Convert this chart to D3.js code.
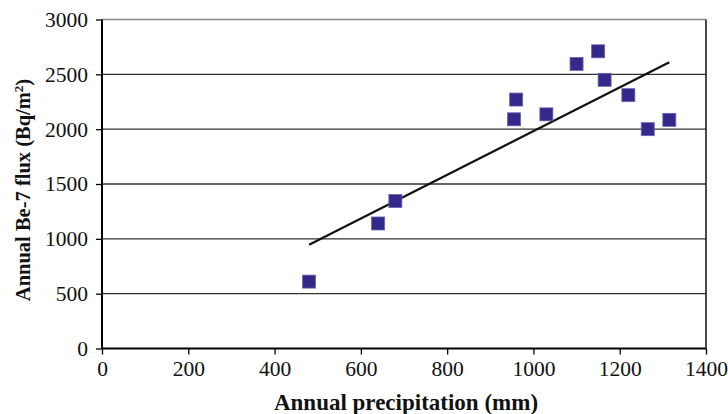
<!DOCTYPE html>
<html>
<head>
<meta charset="utf-8">
<script src="https://cdn.jsdelivr.net/npm/d3@7"></script>
<style>
  body { margin: 0; background: #fff; }
  svg { display: block; font-family: "Liberation Serif", "Times New Roman", serif; }
</style>
</head>
<body>
<svg id="chart" width="728" height="414"></svg>
<script>
// --- data
var precip = [480, 640, 680, 955, 960, 1030, 1100, 1150, 1165, 1220, 1265, 1315];
var flux   = [610, 1140, 1345, 2090, 2270, 2135, 2595, 2710, 2450, 2310, 2000, 2085];
var trendX = [480, 1315];
var trendY = [946, 2610];
var xTicks = [0, 200, 400, 600, 800, 1000, 1200, 1400];
var yTicks = [0, 500, 1000, 1500, 2000, 2500, 3000];

var svg = d3.select("#chart");
var margin = {left: 102, right: 22, top: 19.5, bottom: 65.5};
var width = 728 - margin.left - margin.right,
    height = 414 - margin.top - margin.bottom;

var x = d3.scaleLinear().domain([0, 1400]).range([0, width]);
var y = d3.scaleLinear().domain([0, 3000]).range([height, 0]);

var g = svg.append("g")
    .attr("transform", "translate(" + margin.left + "," + margin.top + ")");

// gridlines
g.selectAll("line.grid")
  .data(yTicks.filter(function(d) { return d > 0; }))
  .enter().append("line")
    .attr("class", "grid")
    .attr("x1", 0).attr("x2", width)
    .attr("y1", y).attr("y2", y)
    .attr("stroke", function(d) { return d == 3000 ? "#888" : "#333"; })
    .attr("stroke-width", 1.3);

// right border
g.append("line")
    .attr("x1", width).attr("x2", width)
    .attr("y1", 0).attr("y2", height)
    .attr("stroke", "#111").attr("stroke-width", 1.5);

// axes
var fmt = d3.format("d");
var xAxis = g.append("g")
    .attr("transform", "translate(0," + height + ")")
    .call(d3.axisBottom(x).tickValues(xTicks).tickFormat(fmt).tickSize(6).tickPadding(6));
var yAxis = g.append("g")
    .call(d3.axisLeft(y).tickValues(yTicks).tickFormat(fmt).tickSize(6).tickPadding(8));

[xAxis, yAxis].forEach(function(a) {
  a.select(".domain").attr("stroke", "#000").attr("stroke-width", 2);
  a.selectAll(".tick line").attr("stroke", "#000").attr("stroke-width", 1.3);
  a.selectAll("text")
    .attr("fill", "#111")
    .style("font-family", "Liberation Serif, serif")
    .style("font-size", "21.5px");
});
xAxis.select(".domain").attr("d", "M0,0H" + width);
yAxis.select(".domain").attr("d", "M0,0V" + height);

// trend line
g.append("line")
    .attr("x1", x(trendX[0])).attr("y1", y(trendY[0]))
    .attr("x2", x(trendX[1])).attr("y2", y(trendY[1]))
    .attr("stroke", "#111").attr("stroke-width", 2.2);

// markers
var s = 13;
g.selectAll("rect.pt")
  .data(precip)
  .enter().append("rect")
    .attr("class", "pt")
    .attr("x", function(d) { return x(d) - s / 2; })
    .attr("y", function(d, i) { return y(flux[i]) - s / 2; })
    .attr("width", s).attr("height", s)
    .attr("fill", "#33298a")
    .attr("stroke", "#6a62b0").attr("stroke-width", 0.8);

// axis titles
svg.append("text")
    .attr("x", 406)
    .attr("y", 410)
    .attr("text-anchor", "middle")
    .style("font-weight", "bold").style("font-size", "23px")
    .attr("fill", "#111")
    .text("Annual precipitation (mm)");

var yt = svg.append("text")
    .attr("transform", "translate(30," + 190 + ") rotate(-90)")
    .attr("text-anchor", "middle")
    .style("font-weight", "bold").style("font-size", "20.5px")
    .attr("fill", "#111");
yt.append("tspan").text("Annual Be-7 flux (Bq/m");
yt.append("tspan").attr("dy", -7).style("font-size", "13px").text("2");
yt.append("tspan").attr("dy", 7).text(")");
</script>
</body>
</html>
